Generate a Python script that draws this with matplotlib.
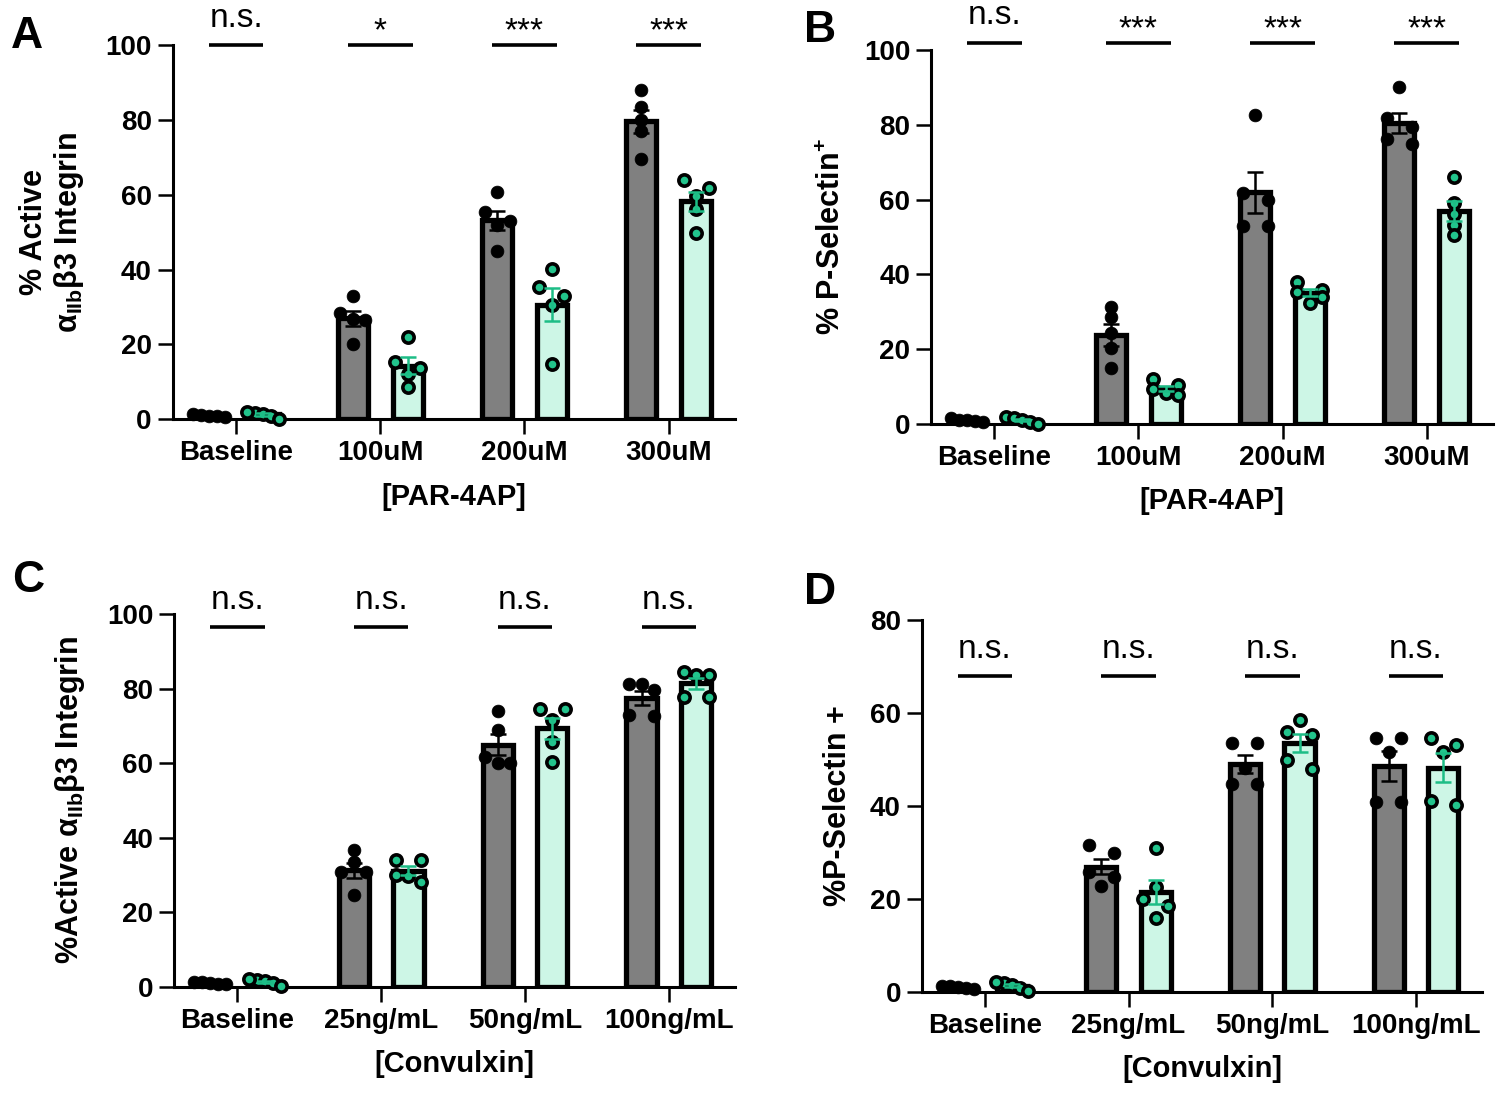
import matplotlib
matplotlib.use('Agg')
import matplotlib.pyplot as plt
import numpy as np

plt.rcParams['font.family'] = ['Liberation Sans', 'DejaVu Sans']
plt.rcParams['font.weight'] = 'bold'
plt.rcParams['axes.labelweight'] = 'bold'
plt.rcParams['mathtext.fontset'] = 'custom'
plt.rcParams['mathtext.rm'] = 'Liberation Sans'
plt.rcParams['mathtext.bf'] = 'Liberation Sans:bold'
plt.rcParams['mathtext.it'] = 'Liberation Sans:italic'

# ---- data ----
par_labels = ['Baseline', '100uM', '200uM', '300uM']
cvx_labels = ['Baseline', '25ng/mL', '50ng/mL', '100ng/mL']

# panel A: % active aIIb b3 integrin, PAR-4AP
a_ctrl = [[1.0, 1.3, 0.8, 1.2, 0.7], [33.0, 28.5, 26.8, 26.5, 20.0],
          [60.6, 55.5, 53.0, 52.0, 45.0], [88.0, 83.5, 80.0, 77.0, 69.5]]
a_trt = [[1.8, 2.0, 1.5, 1.0, 0.2], [22.0, 15.4, 13.6, 12.1, 8.7],
         [40.1, 35.3, 32.8, 30.4, 14.7], [63.9, 61.7, 59.7, 56.1, 49.7]]
a_sig = ['n.s.', '*', '***', '***']

# panel B: % P-selectin+, PAR-4AP
b_ctrl = [[1.5, 1.2, 1.0, 0.8, 0.5], [31.3, 28.6, 24.2, 20.2, 15.1],
          [82.6, 61.7, 59.9, 52.9, 52.9], [90.1, 81.7, 79.5, 76.1, 75.0]]
b_trt = [[2.0, 1.6, 1.0, 0.6, 0.0], [11.9, 10.4, 9.3, 8.2, 7.8],
         [38.1, 35.8, 35.4, 33.9, 32.3], [66.1, 59.0, 56.1, 53.2, 50.5]]
b_sig = ['n.s.', '***', '***', '***']

# panel C: % active integrin, convulxin
c_ctrl = [[1.2, 1.0, 0.8, 1.3, 0.6], [36.8, 33.5, 30.8, 30.8, 24.6],
          [74.0, 68.8, 61.5, 60.1, 60.1], [81.1, 81.1, 79.5, 72.8, 72.6]]
c_trt = [[1.8, 2.0, 1.5, 0.9, 0.2], [34.0, 34.0, 29.9, 29.7, 28.2],
         [74.6, 74.6, 71.5, 65.7, 60.2], [84.5, 83.6, 83.6, 77.6, 77.6]]
c_sig = ['n.s.', 'n.s.', 'n.s.', 'n.s.']

# panel D: % P-selectin+, convulxin
d_ctrl = [[1.2, 1.0, 0.8, 1.3, 0.6], [31.6, 29.8, 25.8, 24.7, 22.7],
          [53.5, 53.5, 48.2, 44.8, 44.8], [54.7, 54.7, 51.7, 40.8, 40.8]]
d_trt = [[1.8, 2.0, 1.5, 0.9, 0.2], [31.0, 22.5, 20.0, 18.4, 15.8],
         [58.5, 56.0, 55.3, 49.9, 47.9], [54.7, 53.2, 51.7, 40.3, 41.0]]
d_sig = ['n.s.', 'n.s.', 'n.s.', 'n.s.']

GRAY = '#808080'
MINT = '#cdf6e6'
GREEN = '#22c48c'
GREEN_ERR = '#1dbd86'
OFF = 0.19
BAR_W = 0.21


def swarm_x(ax, center, vals, diam_px=12.0, step_px=12.5, max_span_px=32.0):
    '''rough GraphPad-like scatter: points that overlap vertically share a row'''
    p0 = ax.transData.transform((0, 0))
    p1 = ax.transData.transform((1, 1))
    px_x = p1[0] - p0[0]
    px_y = p1[1] - p0[1]
    order = np.argsort(vals)[::-1]
    rows = []
    for i in order:
        if rows and abs(vals[rows[-1][0]] - vals[i]) * px_y < 0.8 * diam_px:
            rows[-1].append(i)
        else:
            rows.append([i])
    xs = np.zeros(len(vals))
    for row in rows:
        k = len(row)
        if k == 1:
            offs = [0.0]
        elif k == 2:
            offs = [-step_px, step_px]
        else:
            d = min(step_px, max_span_px / (k - 1))
            offs = [(j - (k - 1) / 2) * d for j in range(k)]
        for j, idx in enumerate(row):
            xs[idx] = center + offs[j] / px_x
    return xs


def draw_panel(ax, ctrl, trt, labels, sig, sig_y, ymax, ylabel, xlabel, ypad):
    ax.set_xlim(-0.44, 3.46)
    ax.set_ylim(0, ymax)
    x = np.arange(len(labels))
    for k in range(len(labels)):
        for vals, dx, face, ecol, is_trt in [(ctrl[k], -OFF, GRAY, 'black', False),
                                              (trt[k], OFF, MINT, GREEN_ERR, True)]:
            v = np.array(vals)
            m = v.mean()
            sem = v.std(ddof=1) / np.sqrt(len(v))
            ax.bar(x[k] + dx, m, width=BAR_W, color=face, edgecolor='black',
                   linewidth=3.8, zorder=2)
            xs = swarm_x(ax, x[k] + dx, v)
            if is_trt:
                ax.scatter(xs, v, s=66, facecolor=GREEN, edgecolor='black',
                           linewidth=2.6, zorder=4, clip_on=False)
            else:
                ax.scatter(xs, v, s=85, facecolor='black', edgecolor='black',
                           linewidth=0.5, zorder=4, clip_on=False)
            ax.errorbar(x[k] + dx, m, yerr=sem, color=ecol, elinewidth=1.8,
                        capsize=6, capthick=1.8, zorder=5)
        hw = 0.19 if sig[k] == 'n.s.' else 0.225
        ax.plot([x[k] - hw, x[k] + hw], [sig_y, sig_y], color='black', lw=2.6,
                clip_on=False, solid_capstyle='butt')
        if sig[k] == 'n.s.':
            ax.annotate(sig[k], (x[k], sig_y), xytext=(0, 13), textcoords='offset points',
                        ha='center', va='baseline', fontsize=24, fontweight='normal',
                        annotation_clip=False)
        else:
            ax.annotate(sig[k], (x[k], sig_y), xytext=(0, 9.5), textcoords='offset points',
                        ha='center', va='center', fontsize=24, fontweight='normal',
                        annotation_clip=False)

    ax.set_xticks(x)
    ax.set_xticklabels(labels)
    ax.set_yticks(np.arange(0, ymax + 1, 20))
    for s in ['top', 'right']:
        ax.spines[s].set_visible(False)
    for s in ['left', 'bottom']:
        ax.spines[s].set_linewidth(2.2)
    ax.tick_params(axis='both', width=1.8, length=11, labelsize=20, pad=4)
    ax.set_xlabel(xlabel, fontsize=21, fontweight='bold', labelpad=12)
    ax.set_ylabel(ylabel, fontsize=22, fontweight='bold', labelpad=ypad, linespacing=1.1)


def main():
    fig = plt.figure(figsize=(15, 10.99), dpi=100)
    ax_a = fig.add_axes([0.1151, 0.6185, 0.3749, 0.3406])
    ax_b = fig.add_axes([0.6207, 0.6142, 0.3745, 0.3403])
    ax_c = fig.add_axes([0.1160, 0.1022, 0.3740, 0.3391])
    ax_d = fig.add_axes([0.6145, 0.0976, 0.3735, 0.3382])

    draw_panel(ax_a, a_ctrl, a_trt, par_labels, a_sig, 100, 100,
               '% Active\n' + r'α$_{\mathrm{IIb}}$β3 Integrin', '[PAR-4AP]', 14)
    draw_panel(ax_b, b_ctrl, b_trt, par_labels, b_sig, 102, 100,
               r'% P-Selectin$^{\mathbf{+}}$', '[PAR-4AP]', 12)
    draw_panel(ax_c, c_ctrl, c_trt, cvx_labels, c_sig, 96.5, 100,
               r'%Active α$_{\mathrm{IIb}}$β3 Integrin', '[Convulxin]', 14)
    draw_panel(ax_d, d_ctrl, d_trt, cvx_labels, d_sig, 68, 80,
               '%P-Selectin +', '[Convulxin]', 12)

    for lbl, (px, py) in zip('ABCD', [(27, 37), (820, 30), (28, 580), (820, 592)]):
        fig.text(px / 1500, 1 - py / 1099, lbl, fontsize=32, fontweight='bold',
                 ha='center', va='center')

    fig.savefig('out.png', dpi=100)


if __name__ == '__main__':
    main()
